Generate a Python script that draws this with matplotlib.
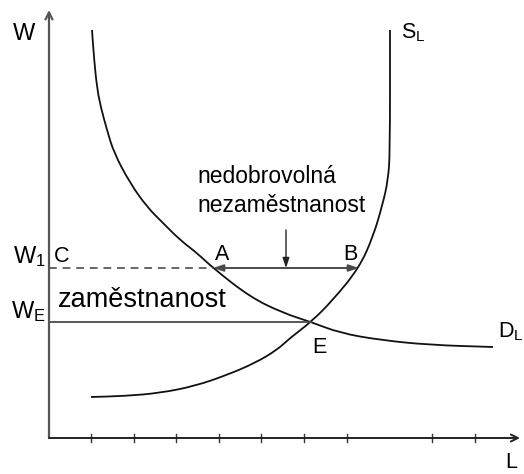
import matplotlib
matplotlib.use("Agg")
import matplotlib.pyplot as plt
from matplotlib.path import Path
from matplotlib.patches import PathPatch

plt.rcParams['font.family'] = ['Liberation Sans', 'DejaVu Sans']
plt.rcParams['mathtext.fontset'] = 'custom'
plt.rcParams['mathtext.rm'] = 'Liberation Sans'

# labour demand curve D_L (L, W)
dl_L = [43, 45, 48, 52, 58, 65, 81, 98, 114, 131, 148, 164, 201, 234, 262, 291, 331, 381, 444]
dl_W = [408, 380, 350, 330, 308, 285, 255, 231, 215, 198, 185, 170, 141, 125, 116, 105, 98, 93, 91]

# labour supply curve S_L
sl_L = [42, 76, 111, 146, 178, 206, 228, 241, 262, 284, 310, 324, 334, 339, 341, 341]
sl_W = [41, 42, 45, 52, 63, 75, 88, 100, 116, 138, 170, 201, 235, 258, 285, 408]

# wage levels and points
W1 = 170
WE = 116
L_A = 164
L_B = 310
L_E = 262
L_arrow = 237
W_arrow_top = 208

tick_L = [42, 85, 127, 170, 212, 255, 298, 383, 426]


def smooth_curve(ax, xs, ys, **kw):
    # quadratic bezier through midpoints, read points used as control points
    pts = list(zip(xs, ys))
    verts = [pts[0]]
    codes = [Path.MOVETO]
    mid = ((pts[0][0] + pts[1][0]) / 2, (pts[0][1] + pts[1][1]) / 2)
    verts.append(mid)
    codes.append(Path.LINETO)
    for i in range(1, len(pts) - 1):
        nxt = ((pts[i][0] + pts[i + 1][0]) / 2, (pts[i][1] + pts[i + 1][1]) / 2)
        verts += [pts[i], nxt]
        codes += [Path.CURVE3, Path.CURVE3]
    verts.append(pts[-1])
    codes.append(Path.LINETO)
    ax.add_patch(PathPatch(Path(verts, codes), fill=False, **kw))


fig = plt.figure(figsize=(5.24, 4.74), dpi=100)
ax = fig.add_axes([0, 0, 1, 1])
ax.set_xlim(-49, 475)
ax.set_ylim(-36, 438)
ax.axis('off')

axis_col = '#555555'
line_col = '#4a4a4a'
curve_col = '#111111'

# axes with open arrowheads
ax.annotate('', xy=(0, 428), xytext=(0, 0),
            arrowprops=dict(arrowstyle='->,head_length=0.5,head_width=0.25', color=axis_col, lw=1.6, shrinkA=0, shrinkB=0))
ax.annotate('', xy=(471, 0), xytext=(0, 0),
            arrowprops=dict(arrowstyle='->,head_length=0.5,head_width=0.25', color='#222222', lw=1.4, shrinkA=0, shrinkB=0))
for t in tick_L:
    ax.plot([t, t], [-4, 4], color='#333333', lw=1.0)

# curves
smooth_curve(ax, dl_L, dl_W, edgecolor=curve_col, lw=1.3)
smooth_curve(ax, sl_L, sl_W, edgecolor=curve_col, lw=1.3)

# wage lines
ax.plot([0, L_A], [W1, W1], color='#666666', lw=1.4, ls=(0, (4, 3)))
ax.plot([0, L_E], [WE, WE], color=line_col, lw=1.3)
ax.annotate('', xy=(L_A, W1), xytext=(L_B, W1),
            arrowprops=dict(arrowstyle='<|-|>,head_length=0.6,head_width=0.2', color=line_col, lw=1.4,
                            shrinkA=0, shrinkB=0))
ax.annotate('', xy=(L_arrow, W1), xytext=(L_arrow, W_arrow_top),
            arrowprops=dict(arrowstyle='-|>,head_length=0.6,head_width=0.2', color='#222222', lw=1.0,
                            shrinkA=0, shrinkB=0))

# labels
fs = 15.5
ax.text(-36, 398, 'W', fontsize=17, va='baseline', ha='left')
ax.text(-36, 175, r'$\mathregular{W_1}$', fontsize=17, va='baseline', ha='left')
ax.text(-38, 120, r'$\mathregular{W_E}$', fontsize=17, va='baseline', ha='left')
ax.text(5, 176, 'C', fontsize=fs, va='baseline', ha='left')
ax.text(9, 131, 'zaměstnanost', fontsize=19.5, va='baseline', ha='left')
ax.text(148, 255, 'nedobrovolná', fontsize=16.5, va='baseline', ha='left')
ax.text(148, 226, 'nezaměstnanost', fontsize=16.5, va='baseline', ha='left')
ax.text(166, 178, 'A', fontsize=fs, va='baseline', ha='left')
ax.text(294, 178, 'B', fontsize=fs, va='baseline', ha='left')
ax.text(263, 85, 'E', fontsize=fs, va='baseline', ha='left')
ax.text(449, 101, r'$\mathregular{D_L}$', fontsize=fs, va='baseline', ha='left')
ax.text(352, 400, r'$\mathregular{S_L}$', fontsize=fs, va='baseline', ha='left')
ax.text(456, -35, 'L', fontsize=fs, va='bottom', ha='left')

fig.savefig('out.png', dpi=100)
